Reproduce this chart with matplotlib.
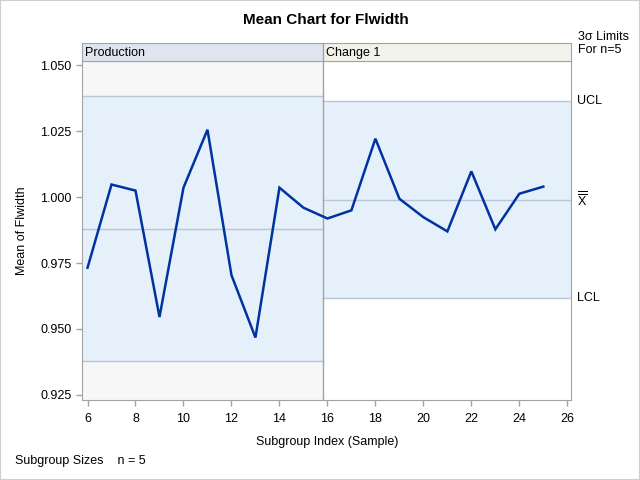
import numpy as np
import matplotlib
matplotlib.use('Agg')
from matplotlib import pyplot as plt
from matplotlib.patches import Rectangle

plt.rcParams['font.family'] = ['Liberation Sans', 'DejaVu Sans']
plt.rcParams['mathtext.fontset'] = 'custom'
plt.rcParams['mathtext.rm'] = 'Liberation Sans'
plt.rcParams['mathtext.it'] = 'Liberation Sans'

# data
samples = list(range(6, 26))
means = [0.9732, 1.0048, 1.0025, 0.9545, 1.0036, 1.0256, 0.9704, 0.9467, 1.0036, 0.9960,
         0.9919, 0.9950, 1.0222, 0.9994, 0.9924, 0.9870, 1.0098, 0.9878, 1.0013, 1.0040]
phases = ['Production', 'Change 1']
phase_bounds = [(5.77, 15.81), (15.81, 26.17)]
ucl = [1.0385, 1.0366]
center = [0.9880, 0.9990]
lcl = [0.9377, 0.9616]
yticks = [0.925, 0.950, 0.975, 1.000, 1.025, 1.050]
xticks = list(range(6, 27, 2))

band_col = '#e6f0fb'
out_col = ['#f7f7f7', '#ffffff']
head_col = ['#dfe5ef', '#f2f2ea']
lim_col = '#b9c6d8'
frame_col = '#a0a4a8'
line_col = '#0033a0'

fig = plt.figure(figsize=(6.4, 4.8), dpi=100)
ax = fig.add_axes([82 / 640, 80 / 480, 489.4 / 640, 339.3 / 480])
head = fig.add_axes([82 / 640, 419.3 / 480, 489.4 / 640, 17.4 / 480], sharex=ax)

ylo, yhi = 0.9230, 1.0518
for i, (x0, x1) in enumerate(phase_bounds):
    ax.add_patch(Rectangle((x0, ylo), x1 - x0, yhi - ylo, facecolor=out_col[i], edgecolor='none', zorder=0))
    ax.add_patch(Rectangle((x0, lcl[i]), x1 - x0, ucl[i] - lcl[i], facecolor=band_col, edgecolor='none', zorder=0.5))
    for v in (ucl[i], center[i], lcl[i]):
        ax.plot([x0, x1], [v, v], color=lim_col, lw=1, zorder=1)
    head.add_patch(Rectangle((x0, 0), x1 - x0, 1, facecolor=head_col[i], edgecolor='none'))
    head.text(x0 + 0.12, 0.45, phases[i], fontsize=9, va='center', ha='left')
ax.axvline(phase_bounds[0][1], color=frame_col, lw=1, zorder=2)
head.axvline(phase_bounds[0][1], color=frame_col, lw=1)

ax.plot(samples, means, color=line_col, lw=1.8, zorder=3, solid_joinstyle='miter')

ax.set_xlim(5.77, 26.17)
ax.set_ylim(ylo, yhi)
ax.set_xticks(xticks)
ax.set_yticks(yticks)
ax.set_yticklabels(['%.3f' % v for v in yticks])
ax.tick_params(colors=frame_col, labelcolor='black', labelsize=9, length=4, width=1)
ax.tick_params(axis='x', pad=5)
for s in ax.spines.values():
    s.set_color(frame_col)
for s in head.spines.values():
    s.set_color(frame_col)
head.set_ylim(0, 1)
head.tick_params(left=False, bottom=False, labelleft=False, labelbottom=False)

ax.set_xlabel('Subgroup Index (Sample)', fontsize=9, labelpad=8)
ax.set_ylabel('Mean of Flwidth', fontsize=9, labelpad=9)

# right side labels
tr = ax.get_yaxis_transform()
ax.text(1.012, ucl[1], 'UCL', transform=tr, fontsize=9, va='center', ha='left')
ax.text(1.012, center[1], r'$\overline{\overline{\mathrm{X}}}$', transform=tr, fontsize=9, va='center', ha='left')
ax.text(1.012, lcl[1], 'LCL', transform=tr, fontsize=9, va='center', ha='left')
fig.text(578 / 640, 1 - 37 / 480, '3\u03c3 Limits', fontsize=9, va='center', ha='left')
fig.text(578 / 640, 1 - 50 / 480, 'For n=5', fontsize=9, va='center', ha='left')

fig.text(326 / 640, 1 - 20 / 480, 'Mean Chart for Flwidth', fontsize=11, fontweight='bold', ha='center', va='center')
fig.text(15 / 640, 1 - 461 / 480, 'Subgroup Sizes    n = 5', fontsize=9, ha='left', va='center')

fig.patches.append(Rectangle((0, 0), 1, 1, transform=fig.transFigure, fill=False,
                             edgecolor='#d0d0d0', lw=1.5, figure=fig))

fig.savefig('out.png', dpi=100)
